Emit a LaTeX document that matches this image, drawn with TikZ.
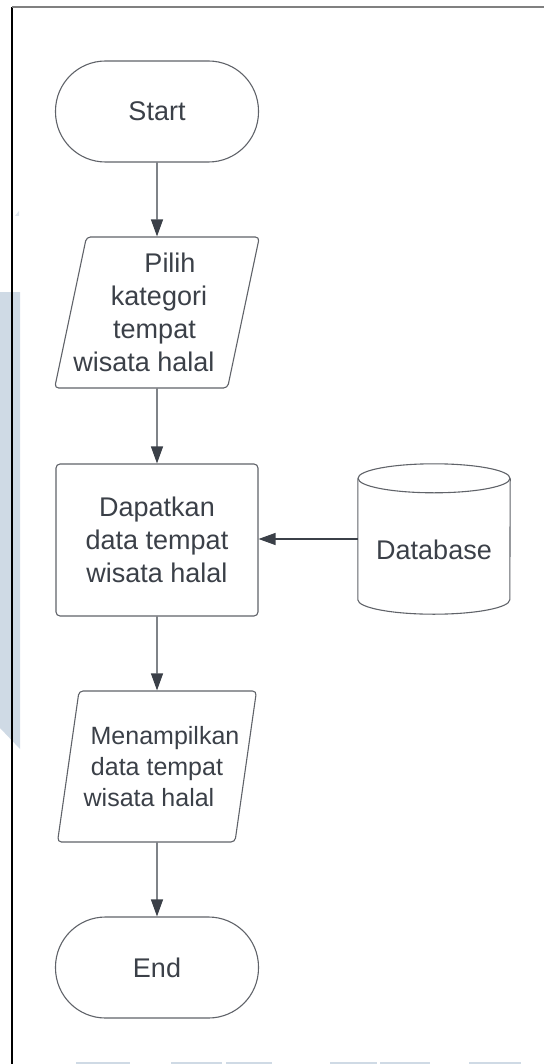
\documentclass[tikz,border=0pt]{standalone}
\usepackage{fontspec}
\setmainfont{Liberation Sans}
\usetikzlibrary{shapes.geometric,arrows.meta}
\definecolor{inkgray}{HTML}{3B4048}
\definecolor{edgegray}{HTML}{606369}
\definecolor{markblue}{HTML}{CFDAE5}
\newcommand{\nudge}[2]{\hspace*{#1}#2\hspace*{-#1}}
\begin{document}
\begin{tikzpicture}[x=1pt,y=-1pt,>={Triangle[length=17pt,width=12pt]},line join=round,font=\fontsize{27}{33}\selectfont]
  \tikzset{terminal/.style={draw=edgegray,line width=1.1pt,fill=white,rectangle,rounded corners=50pt,
      minimum width=203pt,minimum height=101pt,text=inkgray},
    iobox/.style={draw=edgegray,line width=1.1pt,fill=white,trapezium,trapezium left angle=75,
      trapezium right angle=105,trapezium stretches body,rounded corners=4pt,minimum width=199pt,
      minimum height=151pt,inner sep=0pt,align=center,text=inkgray},
    procbox/.style={draw=edgegray,line width=1.1pt,fill=white,rectangle,rounded corners=4pt,
      minimum width=202pt,minimum height=152pt,align=center,text=inkgray},
    dbnode/.style={minimum width=152pt,minimum height=150pt,inner sep=0pt},
    flow/.style={->,draw=inkgray,line width=1.2pt}}
  \useasboundingbox (0,0) rectangle (544,1064);
  % faint watermark
  \fill[markblue] (0,292) -- (20,292) -- (20,749) -- (0,728) -- cycle;
  \fill[markblue!70] (15,216) -- (19,216) -- (19,211) -- cycle;
  \foreach \a/\b in {76/130,171/222,226/272,330/377,380/430,469/521}
    \fill[markblue] (\a,1062) rectangle (\b,1064);
  % frame
  \draw[line width=1.3pt] (12,1064) -- (12,7);
  \draw[line width=1.3pt,gray] (12,7) -- (544,7);
  % shapes
  \node[terminal] (start) at (157,111.5) {Start};
  \node[iobox] (pilih) at (157,312.5)
    {\nudge{13pt}{Pilih}\\\nudge{4pt}{kategori}\\\nudge{-5pt}{tempat}\\\nudge{-13pt}{wisata halal}};
  \node[procbox] (dapat) at (157,540) {Dapatkan\\data tempat\\wisata halal};
  \node[dbnode,label={[text=inkgray,yshift=-11pt]center:Database}] (db) at (434,539) {};
  \draw[draw=edgegray,line width=1.1pt] ([yshift=-14.5pt]db.north west) -- ([yshift=14.5pt]db.south west)
    arc[start angle=180,end angle=360,x radius=76pt,y radius=14.5pt] -- ([yshift=-14.5pt]db.north east);
  \draw[draw=edgegray,line width=1.1pt] ([yshift=-14.5pt]db.north) ellipse[x radius=76pt,y radius=14.5pt];
  \node[iobox,font=\fontsize{25}{31}\selectfont] (tampil) at (157,766.5)
    {\nudge{8pt}{Menampilkan}\\data tempat\\\nudge{-8pt}{wisata halal}};
  \node[terminal] (stop) at (157,967.5) {End};
  % connectors
  \draw[flow] (start.south) -- (pilih.north);
  \draw[flow] (pilih.south) -- (dapat.north);
  \draw[flow] (db.west) -- (db.west -| dapat.east);
  \draw[flow] (dapat.south) -- (tampil.north);
  \draw[flow] (tampil.south) -- (stop.north);
\end{tikzpicture}
\end{document}
